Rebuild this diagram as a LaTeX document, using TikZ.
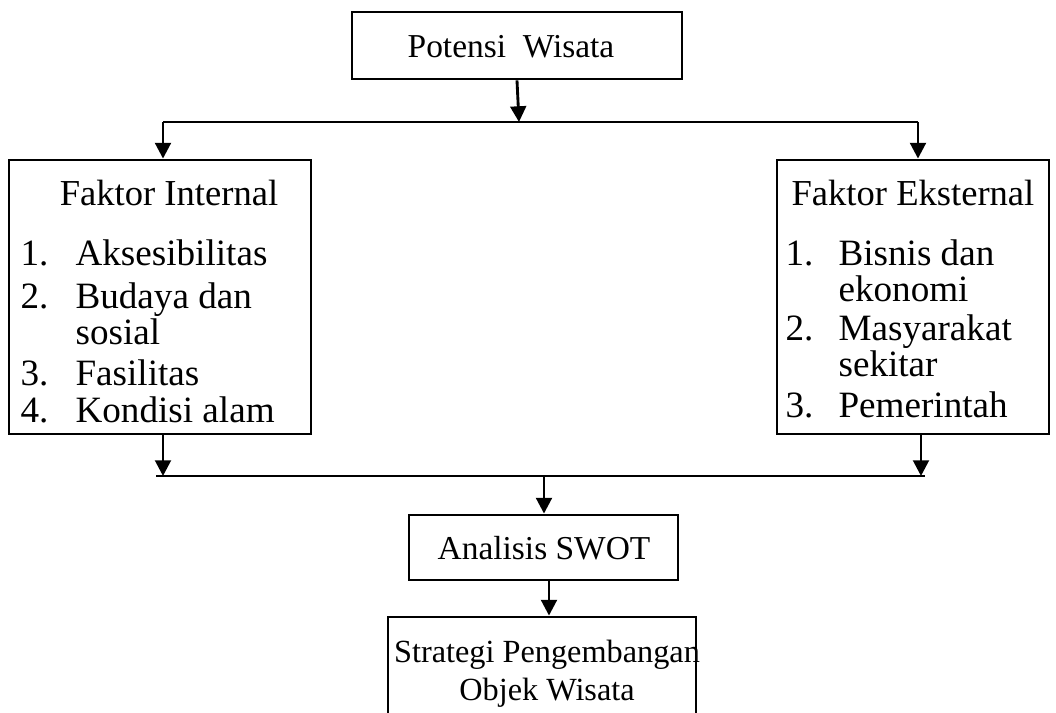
\documentclass[tikz,border=0pt]{standalone}
\usepackage{fontspec}
\setmainfont{Liberation Serif}
\usetikzlibrary{arrows.meta}
\begin{document}
\begin{tikzpicture}[x=0.35pt,y=-0.35pt,
	kotak/.style={draw,line width=1pt,inner sep=0pt},
	garis/.style={line width=1pt},
	panah/.style={line width=1pt,-{Triangle[width=5.5pt,length=5.5pt]}},
	teks/.style={font=\fontsize{11.7}{14}\selectfont,inner sep=0pt,text height=0.72em,text depth=0.22em},
	judul/.style={teks,font=\fontsize{12.8}{15}\selectfont},
	butir/.style={teks,font=\fontsize{13}{15.5}\selectfont,anchor=west}]
	%\draw[help lines] (0,0) grid (1056,713);
	\useasboundingbox (0,0) rectangle (1056,713);
	\clip (0,0) rectangle (1056,713);
	
		% kotak
		\node[kotak,minimum width=115.5pt,minimum height=23.45pt] (potensi) at (517,45.5) {};
		\node[kotak,minimum width=105.7pt,minimum height=95.9pt] (internal) at (160,297) {};
		\node[kotak,minimum width=95.2pt,minimum height=95.9pt] (eksternal) at (913,297) {};
		\node[kotak,minimum width=94.15pt,minimum height=22.75pt] (swot) at (543.5,547.5) {};
		\node[kotak,minimum width=107.8pt,minimum height=45.5pt] (strategi) at (542,682) {};
		
		\node[teks] (judulPotensi) at (511,50) {Potensi\ \ Wisata};
		\node[teks] (judulSwot) at (544,552) {Analisis SWOT};
		
		% faktor internal
		\node[judul] (judulInternal) at (169,198) {Faktor Internal};
		\node[butir] (noI1) at (20,258) {1.};
		\node[butir] (isiI1) at (75,258) {Aksesibilitas};
		\node[butir] (noI2) at (20,301) {2.};
		\node[butir] (isiI2) at (75,301) {Budaya dan};
		\node[butir] (isiI2b) at (75,337) {sosial};
		\node[butir] (noI3) at (20,378) {3.};
		\node[butir] (isiI3) at (75,378) {Fasilitas};
		\node[butir] (noI4) at (20,415) {4.};
		\node[butir] (isiI4) at (75,415) {Kondisi alam};
		
		% faktor eksternal
		\node[judul] (judulEksternal) at (913,198) {Faktor Eksternal};
		\node[butir] (noE1) at (785,258) {1.};
		\node[butir] (isiE1) at (838,258) {Bisnis dan};
		\node[butir] (isiE1b) at (838,294) {ekonomi};
		\node[butir] (noE2) at (785,333) {2.};
		\node[butir] (isiE2) at (838,333) {Masyarakat};
		\node[butir] (isiE2b) at (838,369) {sekitar};
		\node[butir] (noE3) at (785,410) {3.};
		\node[butir] (isiE3) at (838,410) {Pemerintah};
		
		% strategi
		\node[teks,font=\fontsize{11.3}{14}\selectfont] (strategi1) at (547,655) {Strategi Pengembangan};
		\node[teks,font=\fontsize{11.3}{14}\selectfont] (strategi2) at (547,693) {Objek Wisata};
		
		% garis dan panah
		\coordinate (cabang) at (519,122);
		\coordinate (atasKiri) at (163,122);
		\coordinate (atasKanan) at (918,122);
		\coordinate (bawahKiri) at (156,476);
		\coordinate (bawahKanan) at (925,476);
		\coordinate (turunKiri) at (163,476);
		\coordinate (turunKanan) at (921,476);
		\coordinate (gabung) at (544,476);
		\coordinate (lanjut) at (549,600);
		
		\draw[panah] (potensi.south) -- (cabang);
		\draw[garis] (atasKiri) -- (atasKanan);
		\draw[panah] (atasKiri) -- (internal.north -| atasKiri);
		\draw[panah] (atasKanan) -- (eksternal.north -| atasKanan);
		
		\draw[panah] (internal.south -| turunKiri) -- (turunKiri);
		\draw[panah] (eksternal.south -| turunKanan) -- (turunKanan);
		\draw[garis] (bawahKiri) -- (bawahKanan);
		\draw[panah] (gabung) -- (swot.north -| gabung);
		\draw[panah] (swot.south -| lanjut) -- (strategi.north -| lanjut);
	
	\end{tikzpicture}
\end{document}
